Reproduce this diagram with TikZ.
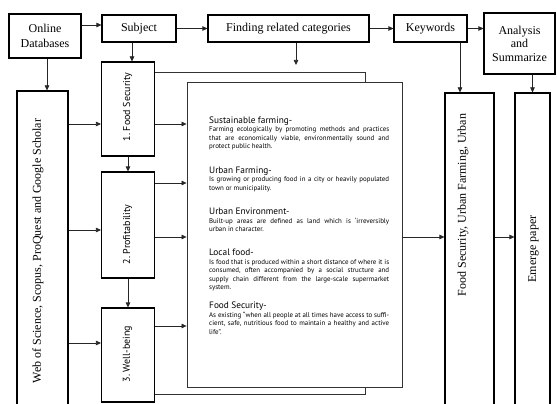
\documentclass[tikz,border=0pt]{standalone}
\usepackage{fontspec}
\setmainfont{Liberation Serif}
\newfontfamily\pagefont{PT Sans}
\usepackage{graphicx}
\usetikzlibrary{arrows.meta, calc}

\newcommand{\headfont}{\pagefont\fontsize{9.3}{10}\selectfont}
\newcommand{\bodyfont}{\pagefont\fontsize{6.9}{8.5}\selectfont}
\frenchspacing

\begin{document}
\begin{tikzpicture}[x=1pt, y=-1pt,
		box/.style={draw, line width=1.1pt, fill=white, inner sep=0pt, align=center, font=\fontsize{12}{14.5}\selectfont},
		vtext/.style={rotate=90, inner sep=0pt, font=\fontsize{12}{14}\selectfont},
		ctext/.style={rotate=90, inner sep=0pt, font=\pagefont\fontsize{10}{11}\selectfont},
		sheet/.style={draw=black!80, line width=0.9pt, fill=white},
		item/.style={anchor=north west, inner sep=0pt, text width=180pt, align=justify, font=\bodyfont},
		arr/.style={draw=black!85, line width=0.6pt, -{Triangle[length=5pt, width=4.5pt]}}]
		\useasboundingbox (0,0) rectangle (557,404);
		\clip (0,0) rectangle (557,404);
		% rows of the side arrows
		\coordinate (row1) at (0,124);
		\coordinate (row2) at (0,183);
		\coordinate (row3) at (0,230);
		\coordinate (row4) at (0,237);
		\coordinate (row5) at (0,326);
		\coordinate (row6) at (0,343);
		\coordinate (findtip) at (296,65);
		% top row
		\node (online) [box, minimum width=72pt, minimum height=44pt] at (45,36) {Online\\Databases};
		\node (subject) [box, minimum width=74pt, minimum height=27pt] at (139,28.5) {Subject};
		\node (finding) [box, minimum width=161pt, minimum height=27pt] at (288.5,28.5) {Finding related categories};
		\node (keywords) [box, minimum width=73pt, minimum height=27pt] at (430.5,28.5) {Keywords};
		\node (analysis) [box, minimum width=71pt, minimum height=61pt, font=\fontsize{12}{13.5}\selectfont] at (519.5,43.5) {Analysis\\and\\Summarize};
		% the two sheets
		\draw [sheet] (150,72) -- (365,72) -- (365,394) -- (150,394);
		\node (page) [sheet, minimum width=215pt, minimum height=305pt, inner sep=0pt] at (294.5,234.5) {};
		\node (sust) [item] at (209,116.5) {\headfont Sustainable farming-\par\bodyfont
			Farming ecologically by promoting methods and practices\linebreak
			that are economically viable, environmentally sound and\linebreak
			protect public health.};
		\node (urbfarm) [item] at (209,166.5) {\headfont Urban Farming-\par\bodyfont
			Is growing or producing food in a city or heavily populated\linebreak
			town or municipality.};
		\node (urbenv) [item] at (209,208) {\headfont Urban Environment-\par\bodyfont
			Built-up areas are defined as land which is ‘irreversibly\linebreak
			urban in character.};
		\node (local) [item] at (209,249) {\headfont Local food-\par\bodyfont
			Is food that is produced within a short distance of where it is\linebreak
			consumed, often accompanied by a social structure and\linebreak
			supply chain different from the large-scale supermarket\linebreak
			system.};
		\node (foodsecdef) [item] at (209,302) {\headfont Food Security-\par\bodyfont
			As existing “when all people at all times have access to suffi-\linebreak
			cient, safe, nutritious food to maintain a healthy and active\linebreak
			life”.};
		% vertical boxes
		\node (web) [box, minimum width=51pt, minimum height=321pt] at (42.5,251.5) {};
		\node (webtxt) [vtext] at (38,251) {Web of Science, Scopus, ProQuest and Google Scholar};
		\node (foodsec) [box, minimum width=53pt, minimum height=94pt] at (128,109) {};
		\node (foodsectxt) [ctext] at (127.5,107) {1. Food Security};
		\node (profit) [box, minimum width=53pt, minimum height=106pt] at (128,225) {};
		\node (profittxt) [ctext] at (127.5,234.5) {2. Profitability};
		\node (wellbeing) [box, minimum width=53pt, minimum height=94pt] at (128,355) {};
		\node (wellbeingtxt) [ctext] at (127.5,354) {3. Well-being};
		\node (keylist) [box, minimum width=49pt, minimum height=319pt] at (469.5,252.5) {};
		\node (keylisttxt) [vtext] at (463,205) {Food Security, Urban Farming, Urban};
		\node (emerge) [box, minimum width=35pt, minimum height=319pt] at (532.5,252.5) {};
		\node (emergetxt) [vtext] at (533.5,249) {Emerge paper};
		% connectors
		\draw [arr] ([yshift=3.5pt]subject.west -| online.east) -- ([yshift=3.5pt]subject.west);
		\draw [arr] (subject) -- (finding);
		\draw [arr] (finding) -- (keywords);
		\draw [arr] (keywords.east) -- (keywords.east -| analysis.west);
		\draw [arr] ([xshift=2pt]online.south) -- ([xshift=2pt]online.south |- web.north);
		\draw [arr] ([xshift=4pt]foodsec.north |- subject.south) -- ([xshift=4pt]foodsec.north);
		\draw [arr] (finding.south -| findtip) -- (findtip);
		\draw [arr] ([xshift=-9.5pt]keylist.north |- keywords.south) -- ([xshift=-9.5pt]keylist.north);
		\draw [arr] (emerge.north |- analysis.south) -- (emerge.north);
		\draw [arr] (foodsec) -- (profit);
		\draw [arr] (profit) -- (wellbeing);
		\draw [arr] (web.east |- row1) -- (foodsec.west |- row1);
		\draw [arr] (web.east |- row3) -- (profit.west |- row3);
		\draw [arr] (web.east |- row6) -- (wellbeing.west |- row6);
		\draw [arr] (foodsec.east |- row1) -- (page.west |- row1);
		\draw [arr] (profit.east |- row2) -- (page.west |- row2);
		\draw [arr] (profit.east |- row4) -- (page.west |- row4);
		\draw [arr] (wellbeing.east |- row5) -- (page.west |- row5);
		\draw [arr] (page.east |- row4) -- (keylist.west |- row4);
		\draw [arr] (keylist.east |- row4) -- (emerge.west |- row4);
	\end{tikzpicture}
\end{document}
